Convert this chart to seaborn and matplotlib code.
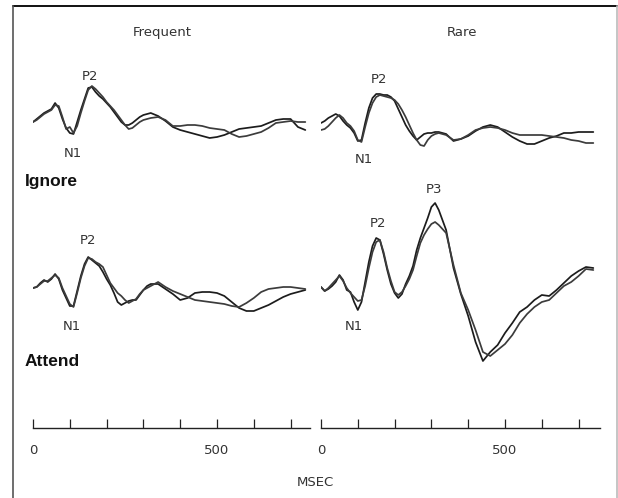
import matplotlib
matplotlib.use("Agg")
import matplotlib.pyplot as plt
from matplotlib.lines import Line2D
import pandas as pd
import seaborn as sns

# ---------------- data (amplitudes, arbitrary units, positive up) ----------
time_ms = [0, 10, 20, 30, 40, 50, 60, 70, 80, 90, 100, 110, 120, 130, 140, 150, 160,
           170, 180, 190, 200, 210, 220, 230, 240, 250, 260, 270, 280, 290, 300, 310, 320,
           340, 360, 380, 400, 420, 440, 460, 480, 500, 520, 540, 560, 580, 600, 620,
           640, 660, 680, 700, 720, 740]

ignore_frequent_a = [0, 3, 6, 9, 11, 13, 19, 14, 3, -6, -11, -12, 0, 12, 23, 34, 35,
                     30, 26, 23, 19, 15, 10, 5, 0, -3, -3, -1, 2, 5, 7, 8, 9,
                     6, 1, -5, -8, -10, -12, -14, -16, -15, -13, -10, -7, -6, -5, -4,
                     -1, 2, 3, 3, -5, -8]
ignore_frequent_b = [0, 2, 5, 8, 10, 12, 17, 16, 5, -7, -5, -11, -4, 9, 21, 32, 36,
                     33, 29, 25, 20, 16, 12, 7, 2, -3, -7, -6, -3, 0, 2, 3, 4,
                     5, 2, -4, -4, -3, -3, -4, -6, -7, -8, -12, -15, -14, -12, -10,
                     -6, -1, 0, 1, 0, 0]

ignore_rare_a = [2, 4, 7, 9, 11, 9, 4, 0, -3, -8, -16, -15, 2, 17, 27, 31, 31,
                 30, 30, 28, 24, 16, 8, 0, -6, -11, -15, -12, -9, -8, -8, -7, -7,
                 -9, -16, -14, -11, -6, -2, 0, -2, -7, -12, -16, -19, -19, -16, -13,
                 -11, -8, -8, -7, -7, -7]
ignore_rare_b = [-5, -4, -1, 3, 7, 10, 7, 2, -1, -6, -15, -17, -2, 12, 22, 28, 30,
                 29, 28, 27, 25, 21, 15, 8, 0, -8, -15, -20, -21, -15, -11, -9, -8,
                 -10, -15, -14, -10, -5, -3, -2, -3, -5, -8, -10, -10, -10, -10, -11,
                 -12, -13, -15, -16, -18, -18]

attend_frequent_a = [0, 1, 5, 8, 6, 9, 14, 9, -2, -10, -18, -18, -3, 12, 24, 31, 28,
                     25, 22, 16, 9, 3, -5, -14, -17, -15, -13, -12, -12, -7, -2, 2, 4,
                     4, -1, -6, -12, -10, -5, -4, -4, -5, -8, -14, -20, -23, -23, -20,
                     -17, -13, -9, -6, -4, -2]
attend_frequent_b = [0, 1, 4, 7, 7, 10, 13, 10, 0, -8, -16, -19, -5, 10, 22, 30, 29,
                     26, 24, 21, 13, 5, 0, -5, -8, -12, -15, -13, -11, -6, -2, 0, 2,
                     6, 1, -3, -6, -9, -12, -13, -14, -15, -16, -18, -19, -15, -10, -4,
                     -1, 0, 1, 1, 0, -1]

attend_rare_a = [3, -1, 1, 4, 8, 15, 10, 0, -2, -12, -20, -12, 8, 28, 44, 52, 50,
                 36, 20, 6, -3, -8, -4, 6, 14, 24, 40, 52, 62, 72, 83, 87, 80,
                 60, 22, -4, -26, -52, -71, -62, -55, -43, -33, -22, -17, -10, -5, -6,
                 0, 7, 14, 19, 23, 22]
attend_rare_b = [3, -1, 2, 6, 10, 14, 9, 2, -3, -7, -11, -10, 4, 22, 38, 48, 50,
                 38, 22, 9, -2, -5, -2, 4, 11, 20, 34, 47, 55, 61, 66, 68, 65,
                 57, 25, -3, -20, -40, -62, -66, -60, -54, -45, -33, -24, -17, -12, -10,
                 -3, 4, 8, 14, 21, 20]

conditions = ["Frequent", "Rare"]
rows = ["Ignore", "Attend"]
tick_values = [0, 100, 200, 300, 400, 500, 600, 700]
tick_labels = ["0", "", "", "", "", "500", "", ""]

series = {
    ("Frequent", "Ignore"): (ignore_frequent_a, ignore_frequent_b),
    ("Rare", "Ignore"): (ignore_rare_a, ignore_rare_b),
    ("Frequent", "Attend"): (attend_frequent_a, attend_frequent_b),
    ("Rare", "Attend"): (attend_rare_a, attend_rare_b),
}

records = []
for (cond, row), (a, b) in series.items():
    for name, vals in (("A", a), ("B", b)):
        for t, v in zip(time_ms, vals):
            records.append({"condition": cond, "row": row, "trace": name, "time": t, "amp": v})
df = pd.DataFrame(records)

# ---------------- layout ----------------
sns.set_theme(style="white")
plt.rcParams["font.family"] = ["DejaVu Sans"]

W, H = 618, 498
fig = plt.figure(figsize=(W / 100, H / 100), dpi=100)
fig.patch.set_facecolor("white")

PX_PER_MS = 0.368
TOP_PX, AXIS_PX = 20, 428


def px_axes(x0, x1):
    return fig.add_axes([x0 / W, 1 - AXIS_PX / H, (x1 - x0) / W, (AXIS_PX - TOP_PX) / H])


axes = {"Frequent": px_axes(33, 310), "Rare": px_axes(321, 600)}
axis_len_px = {"Frequent": 277, "Rare": 279}
# vertical placement of each row's baseline (pixels above the time axis)
baseline = {("Frequent", "Ignore"): 306, ("Rare", "Ignore"): 303,
            ("Frequent", "Attend"): 140, ("Rare", "Attend"): 138}
palette = {"A": "#1c1c1c", "B": "#3c3c3c"}

for cond in conditions:
    ax = axes[cond]
    ax.set_facecolor("none")
    for row in rows:
        sub = df[(df.condition == cond) & (df.row == row)].copy()
        sub["y"] = sub["amp"] + baseline[(cond, row)]
        sns.lineplot(data=sub, x="time", y="y", hue="trace", palette=palette,
                     estimator=None, sort=False, legend=False, linewidth=1.25, ax=ax)
    ax.set_xlim(0, axis_len_px[cond] / PX_PER_MS)
    ax.set_ylim(0, AXIS_PX - TOP_PX)
    ax.set_xlabel("")
    ax.set_ylabel("")
    ax.set_yticks([])
    for s in ("left", "top", "right"):
        ax.spines[s].set_visible(False)
    ax.spines["bottom"].set_color("#222222")
    ax.spines["bottom"].set_linewidth(1.0)
    ax.set_xticks(tick_values)
    ax.set_xticklabels(tick_labels)
    ax.tick_params(axis="x", bottom=True, direction="in", length=6.5, width=0.9,
                   color="#222222", pad=11.5, labelsize=9.5, labelcolor="#333333")

lab_kw = dict(fontsize=9.5, color="#333333", ha="center", va="baseline")
axL, axR = axes["Frequent"], axes["Rare"]
axL.text(155, 348, "P2", **lab_kw)
axL.text(109, 271, "N1", **lab_kw)
axL.text(149, 184, "P2", **lab_kw)
axL.text(106, 98, "N1", **lab_kw)
axR.text(158, 345, "P2", **lab_kw)
axR.text(117, 265, "N1", **lab_kw)
axR.text(307, 235, "P3", **lab_kw)
axR.text(155, 201, "P2", **lab_kw)
axR.text(90, 98, "N1", **lab_kw)


def fig_text(xpx, ypx, s, **kw):
    fig.text(xpx / W, 1 - ypx / H, s, **kw)


fig_text(162, 36, "Frequent", **lab_kw)
fig_text(462, 36.5, "Rare", **lab_kw)
fig_text(315.5, 486, "MSEC", **lab_kw)
row_kw = dict(fontsize=12.5, fontweight="bold", color="#111111", ha="left", va="baseline",
              family=["Liberation Sans", "DejaVu Sans"])
fig_text(25, 186, "Ignore", **row_kw)
fig_text(25, 366, "Attend", **row_kw)

# frame around the figure
fig.add_artist(Line2D([12.5 / W, 617 / W], [1 - 6 / H, 1 - 6 / H], transform=fig.transFigure,
                      color="#111111", linewidth=1.4))
fig.add_artist(Line2D([12.5 / W, 12.5 / W], [0, 1 - 6 / H], transform=fig.transFigure,
                      color="#555555", linewidth=1.2))
fig.add_artist(Line2D([617 / W, 617 / W], [0, 1 - 6 / H], transform=fig.transFigure,
                      color="#bbbbbb", linewidth=1.2))

fig.savefig("out.png", dpi=100, facecolor="white")
